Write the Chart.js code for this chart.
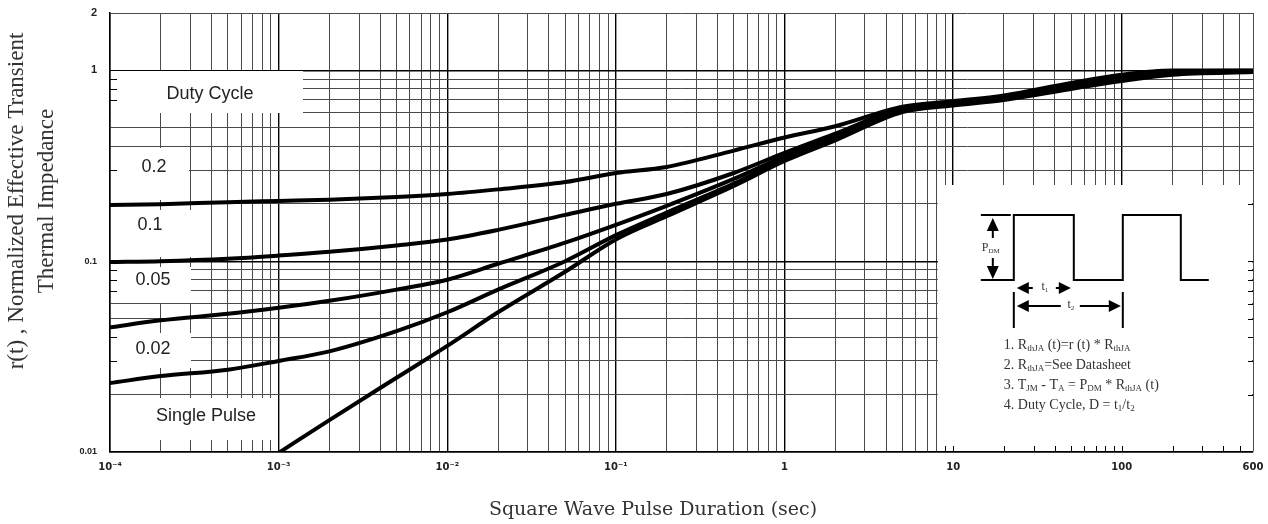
<!DOCTYPE html>
<html>
<head>
<meta charset="utf-8">
<script src="https://cdn.jsdelivr.net/npm/chart.js@4.4.1/dist/chart.umd.min.js"></script>
<style>
  html, body { margin: 0; padding: 0; background: #fff; }
  #wrap { width: 1268px; height: 524px; }
</style>
</head>
<body>
<div id="wrap"><canvas id="chart"></canvas></div>
<script>
// pulse duration (sec) and r(t)
const pulseTimes  = [1e-4, 2e-4, 5e-4, 1e-3, 2e-3, 5e-3, 1e-2, 2e-2, 5e-2, 0.1, 0.2, 0.5, 1, 2, 5, 10, 20, 50, 100, 200, 600];
const duty02      = [0.197, 0.199, 0.204, 0.207, 0.21, 0.217, 0.225, 0.238, 0.26, 0.29, 0.312, 0.38, 0.445, 0.51, 0.645, 0.69, 0.74, 0.86, 0.95, 1.0, 1.0];
const duty01      = [0.099, 0.1, 0.103, 0.107, 0.112, 0.121, 0.13, 0.146, 0.175, 0.2, 0.225, 0.29, 0.37, 0.466, 0.635, 0.68, 0.73, 0.84, 0.93, 0.99, 0.995];
const duty005     = [0.045, 0.049, 0.053, 0.057, 0.062, 0.071, 0.08, 0.097, 0.125, 0.155, 0.195, 0.27, 0.355, 0.45, 0.625, 0.67, 0.72, 0.83, 0.91, 0.975, 0.99];
const duty002     = [0.023, 0.025, 0.027, 0.03, 0.0337, 0.043, 0.054, 0.071, 0.1, 0.137, 0.18, 0.255, 0.345, 0.44, 0.615, 0.665, 0.71, 0.815, 0.9, 0.965, 0.985];
const singlePulse = [null, null, null, 0.0099, 0.0147, 0.0245, 0.036, 0.054, 0.088, 0.13, 0.172, 0.248, 0.335, 0.43, 0.605, 0.655, 0.70, 0.80, 0.88, 0.95, 0.98];

const curveLabels = ['0.2', '0.1', '0.05', '0.02', 'Single Pulse'];

const xLabelValues = [1e-4, 1e-3, 1e-2, 1e-1, 1, 10, 100, 600];
const xTickLabels  = ['10\u207B\u2074', '10\u207B\u00B3', '10\u207B\u00B2', '10\u207B\u00B9', '1', '10', '100', '600'];
const yLabelValues = [0.01, 0.1, 1, 2];
const yTickLabels  = ['0.01', '0.1', '1', '2'];

const xTitle = 'Square Wave Pulse Duration (sec)';
const yTitle = ['r(t) , Normalized Effective Transient', 'Thermal Impedance'];

// every 1..9 x 10^n grid line between min and max
function logGrid(minExp, maxExp, max) {
  const out = [];
  for (let e = minExp; e <= maxExp; e++) {
    for (let m = 1; m <= 9; m++) {
      const v = +(m * Math.pow(10, e)).toPrecision(6);
      if (v <= max) out.push(v);
    }
  }
  return out;
}
const xGrid = logGrid(-4, 2, 600);
const yGrid = logGrid(-2, 0, 2);

function labelFor(v, vals, labels) {
  const i = vals.findIndex(l => Math.abs(v / l - 1) < 1e-6);
  return i < 0 ? '' : labels[i];
}
function isDecade(v) {
  const l = Math.log10(v);
  return Math.abs(l - Math.round(l)) < 1e-6;
}

const gridColor = ctx => ctx.tick && isDecade(ctx.tick.value) ? '#000' : '#4a4a4a';
const gridWidth = ctx => ctx.tick && isDecade(ctx.tick.value) ? 1.4 : 1;

// white boxes behind the curve labels, offsets from the plot's top-left corner
const labelBoxes = [
  { text: 'Duty Cycle',   x: 1, y: 58,  w: 192, h: 42, tx: 100, ty: 81 },
  { text: curveLabels[0], x: 1, y: 135, w: 78,  h: 52, tx: 44,  ty: 154 },
  { text: curveLabels[1], x: 1, y: 197, w: 80,  h: 47, tx: 40,  ty: 212 },
  { text: curveLabels[2], x: 1, y: 254, w: 80,  h: 36, tx: 43,  ty: 267 },
  { text: curveLabels[3], x: 1, y: 320, w: 80,  h: 35, tx: 43,  ty: 336 },
  { text: curveLabels[4], x: 1, y: 385, w: 167, h: 42, tx: 96,  ty: 403 }
];

const notes = [
  ['1. R', 'thJA', ' (t)=r (t) * R', 'thJA'],
  ['2. R', 'thJA', '=See Datasheet'],
  ['3. T', 'JM', ' - T', 'A', ' = P', 'DM', ' * R', 'thJA', ' (t)'],
  ['4. Duty Cycle, D = t', '1', '/t', '2']
];

// text with alternating normal / subscript pieces
function richText(ctx, parts, x, y, size, align) {
  const big = size + 'px "Liberation Serif"';
  const small = Math.round(size * 0.62) + 'px "Liberation Serif"';
  let w = 0;
  parts.forEach((p, i) => { ctx.font = i % 2 ? small : big; w += ctx.measureText(p).width; });
  let cx = align === 'center' ? x - w / 2 : x;
  ctx.textAlign = 'left';
  ctx.textBaseline = 'middle';
  parts.forEach((p, i) => {
    ctx.font = i % 2 ? small : big;
    ctx.fillText(p, cx, i % 2 ? y + size * 0.25 : y);
    cx += ctx.measureText(p).width;
  });
}

function arrowHead(ctx, tx, ty, dir, len, half) {
  const [dx, dy] = dir;
  ctx.beginPath();
  ctx.moveTo(tx, ty);
  ctx.lineTo(tx - dx * len - dy * half, ty - dy * len - dx * half);
  ctx.lineTo(tx - dx * len + dy * half, ty - dy * len + dx * half);
  ctx.closePath();
  ctx.fill();
}

function line(ctx, pts) {
  ctx.beginPath();
  ctx.moveTo(pts[0][0], pts[0][1]);
  for (let i = 1; i < pts.length; i++) ctx.lineTo(pts[i][0], pts[i][1]);
  ctx.stroke();
}

const decor = {
  id: 'decor',
  beforeDatasetsDraw(chart) {
    const { ctx, chartArea: a, scales: { x, y } } = chart;
    const insetL = x.getPixelForValue(8) + 1, insetT = a.top + 172;
    ctx.save();
    ctx.fillStyle = '#fff';
    labelBoxes.forEach(b => ctx.fillRect(a.left + b.x, a.top + b.y, b.w, b.h));
    ctx.fillRect(insetL, insetT, a.right - 1 - insetL, a.bottom - 1 - insetT);
    // short tick stubs along the blanked edges
    ctx.strokeStyle = '#000';
    ctx.lineWidth = 1;
    yGrid.forEach(v => {
      const py = Math.round(y.getPixelForValue(v)) + 0.5;
      labelBoxes.forEach(b => {
        if (py > a.top + b.y && py < a.top + b.y + b.h) line(ctx, [[a.left, py], [a.left + 7, py]]);
      });
      if (py > insetT && py < a.bottom - 2) line(ctx, [[a.right, py], [a.right - 5, py]]);
    });
    xGrid.forEach(v => {
      const px = Math.round(x.getPixelForValue(v)) + 0.5;
      if (px > insetL + 2 && px < a.right - 2) line(ctx, [[px, a.bottom], [px, a.bottom - 6]]);
    });
    ctx.restore();
  },
  afterDatasetsDraw(chart) {
    const { ctx, chartArea: a, scales: { x } } = chart;
    ctx.save();
    ctx.fillStyle = '#222';
    ctx.font = '18px "Liberation Sans", Arial, sans-serif';
    ctx.textAlign = 'center';
    ctx.textBaseline = 'middle';
    labelBoxes.forEach(b => ctx.fillText(b.text, a.left + b.tx, a.top + b.ty));

    // pulse diagram in the lower right box
    const ox = x.getPixelForValue(8) - 8, oy = a.top + 172;
    const P = (px, py) => [ox + px, oy + py];
    ctx.strokeStyle = '#000';
    ctx.fillStyle = '#000';
    ctx.lineWidth = 2;
    line(ctx, [P(52, 95), P(85, 95), P(85, 30), P(145, 30), P(145, 95), P(194, 95), P(194, 30), P(252, 30), P(252, 95), P(280, 95)]);
    line(ctx, [P(52, 30), P(82, 30)]);
    // PDM arrows
    line(ctx, [P(64, 45), P(64, 53)]);
    arrowHead(ctx, ...P(64, 33), [0, -1], 13, 6);
    line(ctx, [P(64, 73), P(64, 82)]);
    arrowHead(ctx, ...P(64, 94), [0, 1], 13, 6);
    // t1, t2 arrows
    line(ctx, [P(85, 107), P(85, 143)]);
    line(ctx, [P(194, 107), P(194, 143)]);
    line(ctx, [P(98, 103), P(104, 103)]);
    arrowHead(ctx, ...P(88, 103), [-1, 0], 12, 6);
    line(ctx, [P(127, 103), P(132, 103)]);
    arrowHead(ctx, ...P(142, 103), [1, 0], 12, 6);
    line(ctx, [P(98, 121), P(132, 121)]);
    arrowHead(ctx, ...P(88, 121), [-1, 0], 12, 6);
    line(ctx, [P(151, 121), P(182, 121)]);
    arrowHead(ctx, ...P(192, 121), [1, 0], 12, 6);

    ctx.fillStyle = '#333';
    richText(ctx, ['P', 'DM'], ...P(62, 63), 12, 'center');
    richText(ctx, ['t', '1'], ...P(116, 102), 12, 'center');
    richText(ctx, ['t', '2'], ...P(142, 120), 12, 'center');
    notes.forEach((n, i) => richText(ctx, n, ...P(75, 160 + i * 20), 14, 'left'));
    ctx.restore();
  },
  afterDraw(chart) {
    const { ctx, chartArea: a } = chart;
    ctx.save();
    ctx.fillStyle = '#333';
    ctx.textAlign = 'center';
    ctx.textBaseline = 'middle';
    // x title sits a little left of the plot centre in the original
    ctx.font = '19px "DejaVu Serif", serif';
    ctx.fillText(xTitle, a.left + 543, a.bottom + 58);
    ctx.font = '23px "Liberation Serif", serif';
    ctx.translate(17, a.top + 188);
    ctx.rotate(-Math.PI / 2);
    ctx.fillText(yTitle[0], 0, 0);
    ctx.fillText(yTitle[1], 0, 30);
    ctx.restore();
  }
};

const series = [duty02, duty01, duty005, duty002, singlePulse];

new Chart(document.getElementById('chart'), {
  type: 'line',
  data: {
    datasets: series.map((s, k) => ({
      label: curveLabels[k],
      data: pulseTimes.map((t, i) => ({ x: t, y: s[i] })).filter(p => p.y !== null),
      borderColor: '#000',
      borderWidth: 4,
      pointRadius: 0,
      fill: false,
      cubicInterpolationMode: 'monotone'
    }))
  },
  options: {
    responsive: true,
    maintainAspectRatio: false,
    animation: false,
    layout: { padding: { top: 13, right: 15, left: 0, bottom: 0 } },
    plugins: { legend: { display: false }, tooltip: { enabled: false } },
    scales: {
      x: {
        type: 'logarithmic',
        min: 1e-4,
        max: 600,
        afterBuildTicks: s => { s.ticks = xGrid.map(v => ({ value: v })); },
        afterFit: s => { s.height = 72; s.paddingLeft = 0; s.paddingRight = 0; },
        ticks: {
          autoSkip: false,
          maxRotation: 0,
          padding: 9,
          color: '#222',
          font: { family: '"DejaVu Sans", Arial, sans-serif', size: 10, weight: 'bold' },
          callback: v => labelFor(v, xLabelValues, xTickLabels)
        },
        grid: { drawTicks: false, color: gridColor, lineWidth: gridWidth },
        border: { color: '#000', width: 1.5 }
      },
      y: {
        type: 'logarithmic',
        min: 0.01,
        max: 2,
        afterBuildTicks: s => { s.ticks = yGrid.map(v => ({ value: v })); },
        afterFit: s => { s.width = 110; s.paddingTop = 0; s.paddingBottom = 0; },
        ticks: {
          autoSkip: false,
          padding: 13,
          color: '#222',
          font: ctx => ({ family: '"Liberation Sans", Arial, sans-serif', size: ctx.tick && ctx.tick.value >= 1 ? 11 : 9, weight: 'bold' }),
          callback: v => labelFor(v, yLabelValues, yTickLabels)
        },
        grid: { drawTicks: false, color: gridColor, lineWidth: gridWidth },
        border: { color: '#000', width: 1.5 }
      }
    }
  },
  plugins: [decor]
});
</script>
</body>
</html>
